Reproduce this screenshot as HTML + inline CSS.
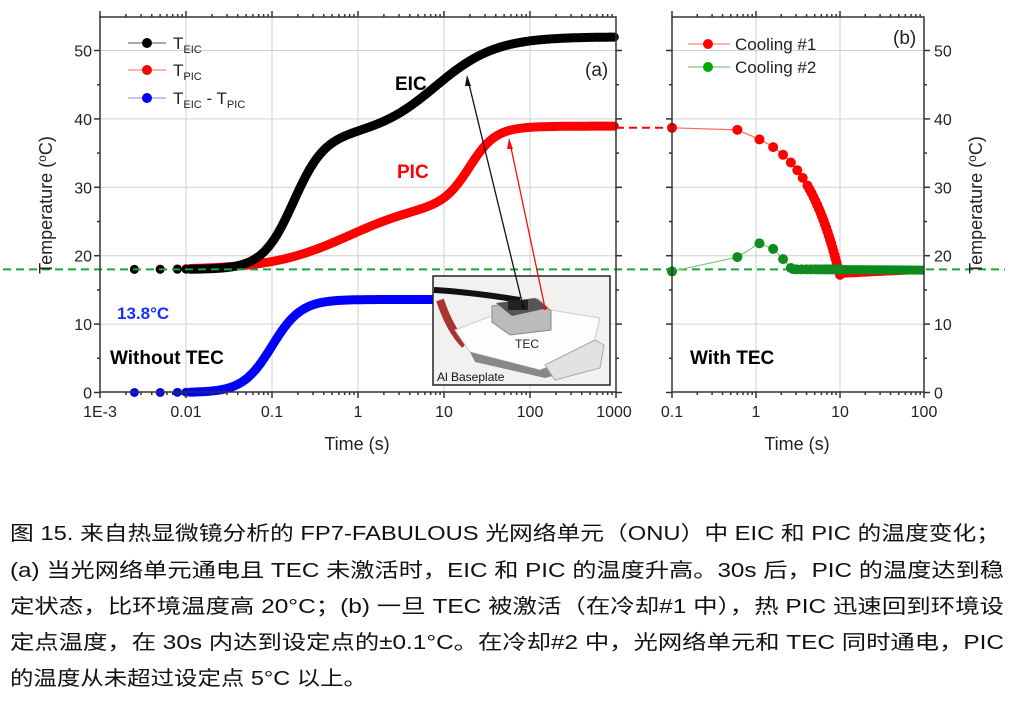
<!DOCTYPE html>
<html><head><meta charset="utf-8"><style>
body{margin:0;background:#fff;width:1012px;height:709px;overflow:hidden}
svg{display:block}
text{font-family:"Liberation Sans","Noto Sans CJK SC",sans-serif}
</style></head><body>
<svg id="s" width="1012" height="709" viewBox="0 0 1012 709" xmlns="http://www.w3.org/2000/svg">
<g id="grid" stroke="#cfcfcf" stroke-width="1"></g>
<g id="data"></g>
<g>
<rect x="433" y="276" width="177" height="109" fill="#f2f1ef" stroke="#222" stroke-width="1.5"/>
<path d="M434 290 Q470 292 520 300" stroke="#111" stroke-width="6" fill="none"/>
<path d="M440 300 Q450 330 465 345" stroke="#a33" stroke-width="8" fill="none"/>
<polygon points="455,330 520,305 600,318 592,350 540,370 470,352" fill="#fdfdfd" stroke="#ccc"/>
<polygon points="470,352 540,370 592,350 595,365 545,378 475,362" fill="#888"/>
<polygon points="545,365 595,340 604,345 600,368 555,380" fill="#e2e2e2" stroke="#aaa"/>
<polygon points="492,306 538,299 551,311 551,330 510,335 492,322" fill="#bbb" stroke="#888"/>
<polygon points="496,303 535,298 548,308 512,316" fill="#555"/>
<rect x="508" y="300" width="20" height="10" fill="#222"/>
<circle cx="523" cy="307" r="2" fill="#111"/><circle cx="545" cy="308" r="2" fill="#e11"/>
<text x="515" y="348" font-size="12" fill="#223">TEC</text>
<text x="437" y="381" font-size="12" fill="#111">Al Baseplate</text>
</g>
<line x1="468" y1="80" x2="523" y2="306" stroke="#111" stroke-width="1.3"/>
<polygon points="467,75 471,86 465,86" fill="#111"/>
<line x1="510" y1="143" x2="545" y2="308" stroke="#e11" stroke-width="1.3"/>
<polygon points="509,138 513,149 507,149" fill="#e11"/>
<g id="axes" fill="none" stroke="#333" stroke-width="1.5"></g>
<g id="lbl" font-size="16" fill="#222"></g>
<g font-size="17" fill="#222">
<line x1="128" y1="43" x2="166" y2="43" stroke="#555"/><circle cx="147" cy="43" r="5" fill="#000"/>
<text x="173" y="49">T<tspan font-size="11" dy="4">EIC</tspan></text>
<line x1="128" y1="70" x2="166" y2="70" stroke="#f66"/><circle cx="147" cy="70" r="5" fill="#f00"/>
<text x="173" y="76">T<tspan font-size="11" dy="4">PIC</tspan></text>
<line x1="128" y1="98" x2="166" y2="98" stroke="#88f"/><circle cx="147" cy="98" r="5" fill="#00f"/>
<text x="173" y="104">T<tspan font-size="11" dy="4">EIC</tspan><tspan dy="-4"> - T</tspan><tspan font-size="11" dy="4">PIC</tspan></text>
<text x="585" y="76" font-size="19">(a)</text>
<line x1="688" y1="44" x2="730" y2="44" stroke="#f66"/><circle cx="708" cy="44" r="5" fill="#f00"/>
<text x="735" y="50">Cooling #1</text>
<line x1="688" y1="67" x2="730" y2="67" stroke="#6b6"/><circle cx="708" cy="67" r="5" fill="#0a0"/>
<text x="735" y="73">Cooling #2</text>
<text x="893" y="44" font-size="19">(b)</text>
</g>
<g font-weight="bold" font-size="19">
<text x="395" y="90" fill="#000">EIC</text>
<text x="397" y="178" fill="#f00">PIC</text>
<text x="117" y="319" fill="#1a2fff" font-size="17">13.8°C</text>
<text x="110" y="364" fill="#000">Without TEC</text>
<text x="690" y="364" fill="#000">With TEC</text>
</g>
<text x="357" y="450" font-size="18" text-anchor="middle" fill="#222">Time (s)</text>
<text x="797" y="450" font-size="18" text-anchor="middle" fill="#222">Time (s)</text>
<text transform="translate(52,205) rotate(-90)" font-size="18" text-anchor="middle" fill="#222">Temperature (<tspan font-size="12" dy="-6">o</tspan><tspan dy="6">C)</tspan></text>
<text transform="translate(982,205) rotate(-90)" font-size="18" text-anchor="middle" fill="#222">Temperature (<tspan font-size="12" dy="-6">o</tspan><tspan dy="6">C)</tspan></text>
<g font-size="20" fill="#111">
<text x="10" y="540" textLength="990" lengthAdjust="spacingAndGlyphs">图 15. 来自热显微镜分析的 FP7-FABULOUS 光网络单元（ONU）中 EIC 和 PIC 的温度变化；</text>
<text x="10" y="577" textLength="994" lengthAdjust="spacingAndGlyphs">(a) 当光网络单元通电且 TEC 未激活时，EIC 和 PIC 的温度升高。30s 后，PIC 的温度达到稳</text>
<text x="10" y="613" textLength="994" lengthAdjust="spacingAndGlyphs">定状态，比环境温度高 20°C；(b) 一旦 TEC 被激活（在冷却#1 中），热 PIC 迅速回到环境设</text>
<text x="10" y="649" textLength="994" lengthAdjust="spacingAndGlyphs">定点温度，在 30s 内达到设定点的±0.1°C。在冷却#2 中，光网络单元和 TEC 同时通电，PIC</text>
<text x="10" y="685" textLength="357" lengthAdjust="spacingAndGlyphs">的温度从未超过设定点 5°C 以上。</text>
</g>
</svg>
<script>
const NS="http://www.w3.org/2000/svg";
function el(p,t,a){const e=document.createElementNS(NS,t);for(const k in a)e.setAttribute(k,a[k]);p.appendChild(e);return e;}
const Y=v=>392.5-v*6.84;
const XA=u=>100+(u+3)*86;
const XB=u=>672+(u+1)*84;
const S=x=>1/(1+Math.exp(-x));
const grid=document.getElementById('grid'),data=document.getElementById('data'),axes=document.getElementById('axes'),lbl=document.getElementById('lbl');
for(let u=-2;u<=2;u++)el(grid,'line',{x1:XA(u),y1:17,x2:XA(u),y2:392});
for(let u=0;u<=1;u++)el(grid,'line',{x1:XB(u),y1:17,x2:XB(u),y2:392});
for(let v=10;v<=50;v+=10){el(grid,'line',{x1:100,y1:Y(v),x2:616,y2:Y(v)});el(grid,'line',{x1:672,y1:Y(v),x2:924,y2:Y(v)});}
const E=u=>18+19.5*S((u+0.75)/0.18)+14.5*S((u-0.9)/0.35)-14.5*S((-2.6-0.9)/0.35);
const P=u=>18+10*S((u+0.1)/0.45)+11*S((u-1.3)/0.15)-10*S((-2.6+0.1)/0.45);
const B=u=>13.6*S((u+1.0)/0.17);
function curve(f,col,u0,u1){let s='';for(let u=u0;u<=u1+1e-9;u+=0.01)s+=XA(u).toFixed(1)+','+Y(f(u)).toFixed(1)+' ';
el(data,'polyline',{points:s,fill:'none',stroke:col,'stroke-width':9,'stroke-linecap':'round','stroke-linejoin':'round'});
[-2.6,-2.3,-2.1,-2].forEach(u=>el(data,'circle',{cx:XA(u),cy:Y(f(u)),r:4.5,fill:col}));}
curve(B,'#0000ff',-1.95,1.2);curve(P,'#ff0000',-1.95,2.98);curve(E,'#000',-1.95,2.98);
el(data,'line',{x1:3,y1:Y(18),x2:1005,y2:Y(18),stroke:'#1aa33a','stroke-width':2,'stroke-dasharray':'8,5'});
el(data,'line',{x1:616,y1:Y(38.7),x2:672,y2:Y(38.7),stroke:'#f00','stroke-width':2,'stroke-dasharray':'8,5'});
let R=[[0.1,38.7],[0.6,38.4]];for(let t=1.1;t<=9.65;t+=0.25)R.push([t,37-2.25*(t-1.1)]);R.push([10,17.2]);
let rs=R.map(p=>XB(Math.log10(p[0]))+','+Y(p[1])).join(' ')+' '+XB(2)+','+Y(17.8);
el(data,'polyline',{points:rs,fill:'none',stroke:'#f66','stroke-width':1.2});
el(data,'line',{x1:XB(1),y1:Y(17.2),x2:XB(2),y2:Y(17.8),stroke:'#f00','stroke-width':6});
R.forEach((p,i)=>{if(i<2||i%2==0||p[0]>4)el(data,'circle',{cx:XB(Math.log10(p[0])),cy:Y(p[1]),r:5,fill:'#f00'})});
const G=[[0.1,17.7],[0.6,19.8],[1.1,21.8],[1.6,21],[2.1,19.5],[2.6,18.2]];
el(data,'polyline',{points:G.map(p=>XB(Math.log10(p[0]))+','+Y(p[1])).join(' '),fill:'none',stroke:'#7c7','stroke-width':1.2});
el(data,'line',{x1:XB(Math.log10(2.6)),y1:Y(18),x2:XB(2),y2:Y(17.9),stroke:'#0a8a1a','stroke-width':9});
G.forEach(p=>el(data,'circle',{cx:XB(Math.log10(p[0])),cy:Y(p[1]),r:5,fill:'#118a22'}));
for(let t=3;t<=10;t+=0.5)el(data,'circle',{cx:XB(Math.log10(t)),cy:Y(18),r:5,fill:'#118a22'});
el(axes,'rect',{x:100,y:17,width:516,height:375});
el(axes,'rect',{x:672,y:17,width:252,height:375});
function xt(X,d0,d1){for(let d=d0;d<d1;d++)for(let m=1;m<10;m++){const x=X(d+Math.log10(m));const L=m==1?6:3;
el(axes,'line',{x1:x,y1:392,x2:x,y2:392+L});el(axes,'line',{x1:x,y1:17,x2:x,y2:17-L});}
el(axes,'line',{x1:X(d1),y1:392,x2:X(d1),y2:398});}
xt(XA,-3,3);xt(XB,-1,2);
for(let v=0;v<=50;v+=5){const L=v%10?3:6;el(axes,'line',{x1:100,y1:Y(v),x2:100-L,y2:Y(v)});el(axes,'line',{x1:616,y1:Y(v),x2:616+L,y2:Y(v)});
el(axes,'line',{x1:672,y1:Y(v),x2:672-L,y2:Y(v)});el(axes,'line',{x1:924,y1:Y(v),x2:924+L,y2:Y(v)});
if(v%10==0){el(lbl,'text',{x:92,y:Y(v)+6,'text-anchor':'end'}).textContent=v;el(lbl,'text',{x:934,y:Y(v)+6}).textContent=v;}}
['1E-3','0.01','0.1','1','10','100','1000'].forEach((s,i)=>{el(lbl,'text',{x:i==6?XA(i-3)-2:XA(i-3),y:417,'text-anchor':'middle'}).textContent=s;});
['0.1','1','10','100'].forEach((s,i)=>{el(lbl,'text',{x:XB(i-1),y:417,'text-anchor':'middle'}).textContent=s;});
</script>
</body></html>
